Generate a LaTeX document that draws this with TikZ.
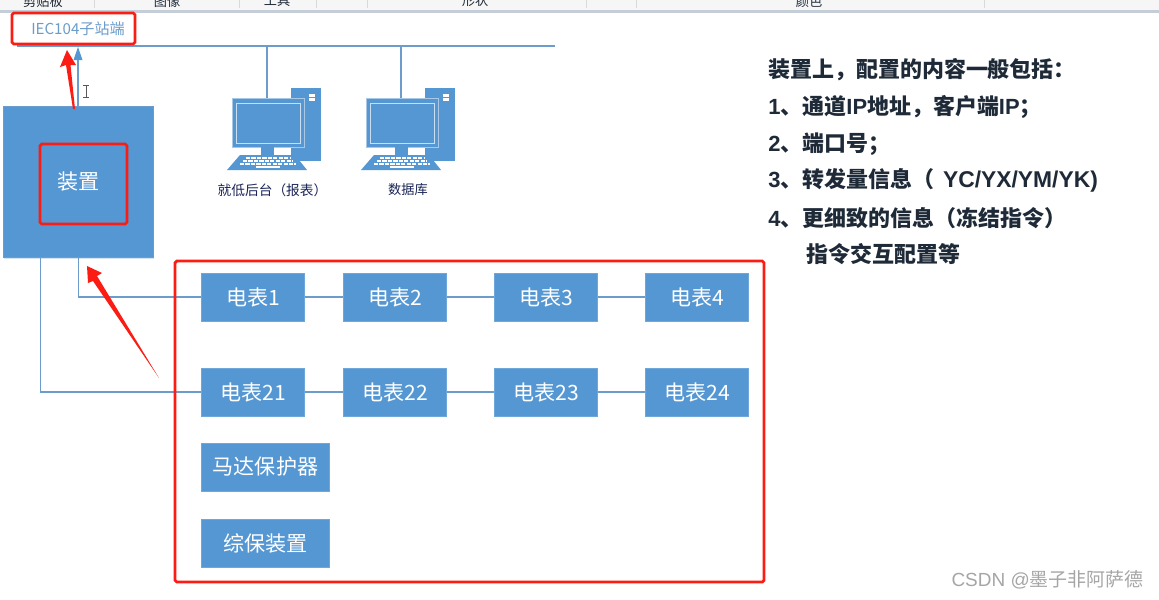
\documentclass[tikz,border=0pt]{standalone}
\usepackage{fontspec}
\setmainfont{Noto Sans CJK SC}
\newfontfamily\latinb[BoldFont={Liberation Sans Bold}]{Liberation Sans}
\usetikzlibrary{calc,shadows}
\definecolor{blu}{HTML}{5597D3}
\definecolor{lin}{HTML}{6C9CCB}
\definecolor{redx}{HTML}{FB1D14}
\definecolor{txt}{HTML}{1F2A38}
\definecolor{lite}{HTML}{A9C8E6}
\definecolor{strip}{HTML}{C5CDD8}
\tikzset{
  x=0.02cm,y=-0.02cm,
  conn/.style={draw=lin,line width=0.8pt},
  softshadow/.style={general shadow={shadow xshift=0.3pt,shadow yshift=-0.7pt,fill=blu,opacity=0.25}},
  meter/.style={softshadow,fill=blu,draw=blu!85!white,line width=0.2pt,text=white,font=\fontsize{12}{14}\selectfont,inner sep=0pt,minimum height=0.96cm,anchor=center},
  m1/.style={meter,minimum width=2.06cm},
  m2/.style={meter,minimum width=2.56cm},
  redbox/.style={draw=redx,line width=1.6pt,rounded corners=1pt},
  redarrow/.style={fill=redx,draw=none},
  capt/.style={text=txt!85!blue,inner sep=0pt},
  note/.style={anchor=west,text=txt,font=\fontsize{12.5}{15}\bfseries\selectfont,inner sep=0pt},
}
\newcommand{\pcicon}[1]{%
  \begin{scope}[shift={(#1)}]
  \fill[blu] (63,-1) rectangle (93,72);
  \fill[white] (81,5) rectangle (87,8);
  \fill[white] (81,9) rectangle (87,12);
  \fill[blu,draw=lite,line width=0.5pt] (4,9) rectangle (76,58);
  \draw[lite!60!white,line width=0.5pt] (8,14) rectangle (72,54);
  \fill[blu] (33,58) rectangle (46,66);
  \fill[blu] (12,66) -- (67,66) -- (79,81) -- (-1,81) -- cycle;
  \foreach \r/\a/\b in {69/18/62,72/15/65,75/12/68}{\draw[white,line width=0.9pt,dash pattern=on 2.4pt off 0.7pt] (\a,\r) -- (\b,\r);}
  \draw[white,line width=0.9pt] (28,78) -- (52,78);
  \end{scope}}
\begin{document}
\begin{tikzpicture}
\useasboundingbox (0,0) rectangle (1159,599);
\fill[white] (0,0) rectangle (1159,599);
% toolbar strip
\fill[gray!7] (0,0) rectangle (1159,10);
\fill[strip] (0,10) rectangle (1159,13);
\begin{scope}
\clip (0,0) rectangle (1159,9);
\foreach \x/\t in {43/剪贴板,167/图像,277/工具,475/形状,809/颜色}{\node[text=txt,font=\fontsize{7.5}{9}\selectfont,inner sep=0pt] at (\x,1) {\t};}
\foreach \x in {94,239,316,367,586,636,984}{\draw[gray!30,line width=0.3pt] (\x,0) -- (\x,8);}
\end{scope}
% bus
\coordinate (busL) at (17,46);
\coordinate (busR) at (555,46);
\draw[conn] (busL) -- (busR);
\coordinate (t1) at (267,46);
\coordinate (t2) at (401,46);
\coordinate (p1) at (267,98);
\coordinate (p2) at (401,98);
\draw[conn] (t1) -- (p1);
\draw[conn] (t2) -- (p2);
\pcicon{228,89}
\pcicon{362,89}
\node[capt,font=\fontsize{7.8}{9}\selectfont] (c1) at (272.5,190) {就低后台（报表）};
\node[capt,font=\fontsize{7.5}{9}\selectfont] (c2) at (408,190) {数据库};
% device
\node[softshadow,fill=blu,draw=lin,line width=0.3pt,minimum width=3cm,minimum height=3.02cm,inner sep=0pt,text=white,font=\fontsize{12}{14}\selectfont] (dev) at (78.5,182) {装置};
\coordinate (dt) at (78,106);
\coordinate (an) at (78,60);
\fill[blu] (78,47) -- (82.5,60) -- (73.5,60) -- cycle;
\draw[conn] (dt) -- (an);
\draw[gray!70!black,line width=0.35pt] (83,85) -- (89,85) (83,97) -- (89,97) (86,85) -- (86,97);
% IEC label
\node[text=lin,font=\fontsize{8.6}{10}\selectfont,inner sep=0pt] (iec) at (78,29) {IEC104子站端};
\draw[redbox] (12,13) rectangle (135,44);
\draw[redbox] (40,144) rectangle (127,224);
% meters
\node[m1] (a1) at (253,297) {电表1};
\node[m1] (a2) at (395,297) {电表2};
\node[m1] (a3) at (546,297) {电表3};
\node[m1] (a4) at (697,297) {电表4};
\node[m1] (b1) at (253,392) {电表21};
\node[m1] (b2) at (395,392) {电表22};
\node[m1] (b3) at (546,392) {电表23};
\node[m1] (b4) at (697,392) {电表24};
\node[m2] (c3) at (265.5,467) {马达保护器};
\node[m2] (c4) at (265.5,543) {综保装置};
\draw[conn] (a1) -- (a2); \draw[conn] (a2) -- (a3); \draw[conn] (a3) -- (a4);
\draw[conn] (b1) -- (b2); \draw[conn] (b2) -- (b3); \draw[conn] (b3) -- (b4);
\coordinate (d1) at (78.5,258);
\coordinate (d2) at (40.5,258);
\draw[conn] (d1) |- (a1);
\draw[conn] (d2) |- (b1);
% big red box
\draw[redbox] (175,261) rectangle (764,582);
% red arrows
\fill[redarrow] (73,109) -- (66,65) -- (60,67) -- (67,50) -- (76,65) -- (70.5,65) -- (75,109) -- cycle;
\fill[redarrow] (159,378) -- (93,281) -- (88,283) -- (87,266) -- (102,273) -- (97,276) -- cycle;
% notes
\node[note] (n0) at (768,70) {装置上，配置的内容一般包括：};
\node[note] (n1) at (768,107) {{\latinb\bfseries 1}、通道{\latinb\bfseries IP}地址，客户端{\latinb\bfseries IP}；};
\node[note] (n2) at (768,144) {{\latinb\bfseries 2}、端口号；};
\node[note] (n3) at (768,180) {{\latinb\bfseries 3}、转发量信息（\hspace{5pt}{\latinb\bfseries\fontsize{13}{15}\selectfont YC/YX/YM/YK)}};
\node[note] (n4) at (768,218) {{\latinb\bfseries 4}、更细致的信息（冻结指令）};
\node[note] (n5) at (806,254) {指令交互配置等};
\node[anchor=east,text=gray!70,font=\fontsize{10.8}{12}\selectfont,inner sep=0pt] (wm) at (1144,580) {{\latinb CSDN @}墨子非阿萨德};
\end{tikzpicture}
\end{document}
